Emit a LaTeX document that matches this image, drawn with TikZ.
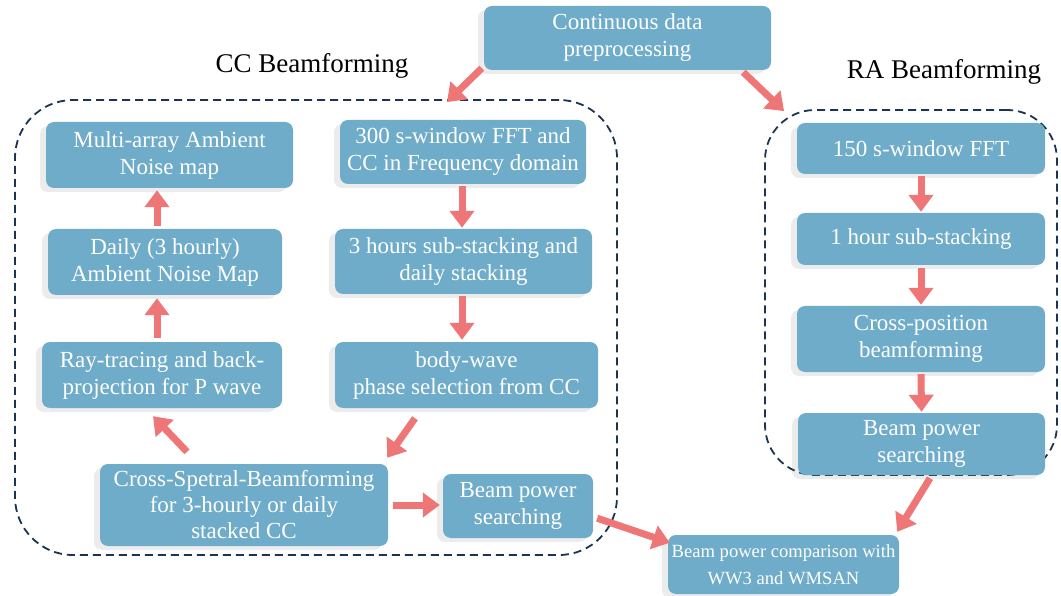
\documentclass[tikz,border=0pt]{standalone}
\usepackage{fontspec}
\setmainfont{Liberation Serif}
\usetikzlibrary{arrows.meta,shadows}
\definecolor{boxblue}{RGB}{110,172,201}
\definecolor{arrred}{RGB}{238,118,118}
\definecolor{dashnavy}{RGB}{28,52,82}
\tikzset{
  box/.style={draw=none, fill=boxblue, rounded corners=8pt, text=white, align=center,
    font=\fontsize{23}{27}\selectfont, inner sep=1pt,
    drop shadow={shadow xshift=-6pt, shadow yshift=-4pt, opacity=0.12, fill=black!60}},
  container/.style={draw=dashnavy, line width=1.8pt, dash pattern=on 8pt off 5pt, fill=none},
  arr/.style={draw=arrred, line width=7pt, -{Triangle[width=24pt,length=17pt]}},
  title/.style={font=\fontsize{27}{30}\selectfont, text=black}
}
\begin{document}
\begin{tikzpicture}[x=1pt,y=-1pt]
\useasboundingbox (0,0) rectangle (1061,596);
% containers
\node[container, rounded corners=58pt, minimum width=602pt, minimum height=455pt] (ccbox) at (316,327.5) {};
\node[container, rounded corners=50pt, minimum width=292pt, minimum height=365pt] (rabox) at (911,292.5) {};
% titles
\node[title] (cctitle) at (312,66) {CC Beamforming};
\node[title] (ratitle) at (944,72) {RA Beamforming};
% boxes
\node[box, minimum width=287pt, minimum height=64pt] (cont) at (627.5,38) {Continuous data\\preprocessing};
\node[box, minimum width=247pt, minimum height=66pt] (multi) at (169.5,155) {Multi-array Ambient\\Noise map};
\node[box, minimum width=246pt, minimum height=64pt] (fftA) at (463,152) {300 s-window FFT and\\CC in Frequency domain};
\node[box, minimum width=234pt, minimum height=66pt] (daily) at (165,262) {Daily (3 hourly)\\Ambient Noise Map};
\node[box, minimum width=257pt, minimum height=65pt] (subA) at (463.5,261.5) {3 hours sub-stacking and\\daily stacking};
\node[box, minimum width=240pt, minimum height=66pt] (ray) at (162,375) {Ray-tracing and back-\\projection for P wave};
\node[box, minimum width=263pt, minimum height=66pt] (body) at (466.5,375) {body-wave\\phase selection from CC};
\node[box, minimum width=288pt, minimum height=82pt, font=\fontsize{23}{26}\selectfont] (cross) at (244,505) {Cross-Spetral-Beamforming\\for 3-hourly or daily\\stacked CC};
\node[box, minimum width=150pt, minimum height=64pt] (bpl) at (518,506) {Beam power\\searching};
\node[box, minimum width=231pt, minimum height=59pt, font=\fontsize{18.6}{27}\selectfont] (cmp) at (783.5,564.5) {Beam power comparison with\\WW3 and WMSAN};
\node[box, minimum width=248pt, minimum height=51pt] (fftB) at (921,148.5) {150 s-window FFT};
\node[box, minimum width=248pt, minimum height=52pt] (subB) at (921,239) {1 hour sub-stacking};
\node[box, minimum width=248pt, minimum height=66pt] (xpos) at (921,339) {Cross-position\\beamforming};
\node[box, minimum width=247pt, minimum height=62pt] (bpr) at (921.5,444) {Beam power\\searching};
% arrows
\draw[arr] ([shift={(-2,-2)}]cont.south west) -- ([shift={(131,3)}]ccbox.north);
\draw[arr] ([shift={(-28,2)}]cont.south east) -- ([shift={(20,2)}]rabox.north west);
\draw[arr] ([shift={(-1,2)}]fftA.south) -- ([shift={(-1.5,-1)}]subA.north);
\draw[arr] ([shift={(-1.5,2)}]subA.south) -- ([shift={(-4.5,-2)}]body.north);
\draw[arr] ([shift={(-51.5,10)}]body.south) -- ([shift={(-1,-6)}]cross.north east);
\draw[arr] ([shift={(-57,-12)}]cross.north) -- ([shift={(-9,8)}]ray.south);
\draw[arr] ([shift={(-5,-4)}]ray.north) -- ([shift={(-8,3)}]daily.south);
\draw[arr] ([shift={(-8,-3)}]daily.north) -- ([shift={(-12.5,2)}]multi.south);
\draw[arr] ([shift={(5,0)}]cross.east) -- ([shift={(-3,-1)}]bpl.west);
\draw[arr] ([shift={(4,-20)}]bpl.south east) -- ([shift={(2,8)}]cmp.north west);
\draw[arr] ([shift={(0,2)}]fftB.south) -- ([shift={(0,-1)}]subB.north);
\draw[arr] ([shift={(0,3)}]subB.south) -- ([shift={(0,-1)}]xpos.north);
\draw[arr] ([shift={(0,2)}]xpos.south) -- ([shift={(0,-1)}]bpr.north);
\draw[arr] ([shift={(8.5,3)}]bpr.south) -- ([shift={(-2,-3)}]cmp.north east);
\end{tikzpicture}
\end{document}
